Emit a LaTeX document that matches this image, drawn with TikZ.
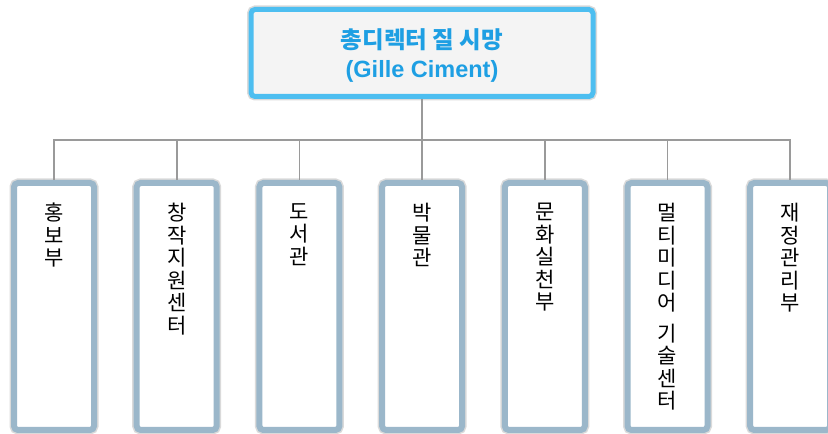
\documentclass[tikz,border=0pt]{standalone}
\usepackage{fontspec}
\setmainfont{Noto Sans CJK KR}
\newfontfamily\latinfont{Liberation Sans}
\usetikzlibrary{positioning}
\definecolor{titleblue}{HTML}{1E9FE3}
\definecolor{topline}{HTML}{4DBEF0}
\definecolor{titlefill}{HTML}{F4F4F4}
\definecolor{deptline}{HTML}{9BB7CA}
\definecolor{rimgray}{HTML}{DADADA}
\definecolor{conngray}{HTML}{9A9A9A}

\begin{document}
\begin{tikzpicture}[x=1pt,y=1pt,
     head/.style = {draw=topline, line width=5pt, rounded corners=4pt, fill=titlefill,
      minimum width=342pt, minimum height=87pt, preaction={draw=rimgray, line width=8pt}},
     headtext/.style = {text=titleblue, align=center, inner sep=0pt,
      font=\bfseries\fontsize{23.5}{29}\selectfont},
     dept/.style = {draw=deptline, line width=6pt, rounded corners=4pt, fill=white,
      minimum width=80pt, minimum height=247pt, preaction={draw=rimgray, line width=9pt},
      node distance=122.7pt},
     depttext/.style = {align=center, inner sep=0pt, font=\fontsize{21}{22.5}\selectfont},
     conn/.style = {draw=conngray, line width=1.6pt}
    ]
    \useasboundingbox (0,0) rectangle (828,434);

    \node [head] (gm) at (422,381) {};
    \node [headtext] (gmt) at ([yshift=-3pt]gm.center) {총디렉터 질 시망\\{\latinfont(Gille Ciment)}};
    \node [dept] (d1) at (54,127.5) {};
    \node [dept, right of=d1] (d2) {};
    \node [dept, right of=d2] (d3) {};
    \node [dept, right of=d3] (d4) {};
    \node [dept, right of=d4] (d5) {};
    \node [dept, right of=d5] (d6) {};
    \node [dept, right of=d6] (d7) {};
    \coordinate (bus) at (422,294);

    \node [depttext, below=23pt of d1.north] (t1) {홍\\보\\부};
    \node [depttext, below=23pt of d2.north] (t2) {창\\작\\지\\원\\센\\터};
    \node [depttext, below=23pt of d3.north] (t3) {도\\서\\관};
    \node [depttext, below=23pt of d4.north] (t4) {박\\물\\관};
    \node [depttext, below=23pt of d5.north] (t5) {문\\화\\실\\천\\부};
    \node [depttext, below=23pt of d6.north] (t6) {멀\\티\\미\\디\\어\\[8pt]기\\술\\센\\터};
    \node [depttext, below=23pt of d7.north] (t7) {재\\정\\관\\리\\부};

    \draw[conn] (gm.south) -- (bus);
    \draw[conn] (d1.north) -- (d1.north |- bus) -- (d7.north |- bus) -- (d7.north);
    \draw[conn] (d2.north) -- (d2.north |- bus);
    \draw[conn] (d3.north) -- (d3.north |- bus);
    \draw[conn] (d4.north) -- (d4.north |- bus);
    \draw[conn] (d5.north) -- (d5.north |- bus);
    \draw[conn] (d6.north) -- (d6.north |- bus);
\end{tikzpicture}
\end{document}
